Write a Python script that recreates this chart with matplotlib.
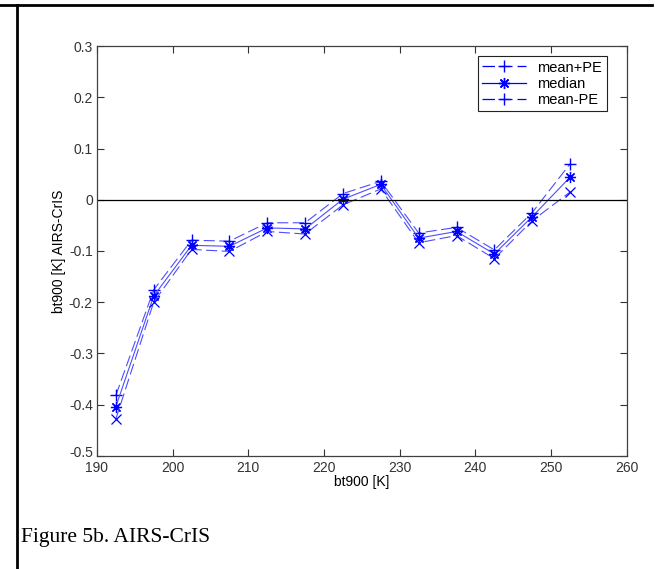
import matplotlib.pyplot as plt
import matplotlib.transforms as mtransforms
from matplotlib.lines import Line2D

# bin centres (bt900 [K])
bt900 = [192.5, 197.5, 202.5, 207.5, 212.5, 217.5, 222.5, 227.5, 232.5, 237.5, 242.5, 247.5, 252.5]

# AIRS-CrIS differences
mean_plus_pe = [-0.382, -0.176, -0.079, -0.081, -0.045, -0.045, 0.012, 0.036, -0.065, -0.054, -0.098, -0.025, 0.070]
median = [-0.404, -0.188, -0.089, -0.091, -0.055, -0.057, 0.001, 0.030, -0.075, -0.062, -0.106, -0.033, 0.044]
mean_minus_pe = [-0.428, -0.200, -0.097, -0.101, -0.062, -0.067, -0.010, 0.021, -0.084, -0.070, -0.115, -0.041, 0.015]

xticks = [190, 200, 210, 220, 230, 240, 250, 260]
yticks = [-0.5, -0.4, -0.3, -0.2, -0.1, 0, 0.1, 0.2, 0.3]

plt.rcParams['font.family'] = ['Liberation Sans', 'DejaVu Sans']

fig = plt.figure(figsize=(6.55, 5.69), dpi=100)
ax = fig.add_axes([0.148, 0.199, 0.809, 0.720])

blue = '#0000ff'
line_c = '#4d4dff'
star = (8, 2, 0)  # asterisk like matlab '*'
dash = (0, (10, 4))

ax.plot(bt900, mean_plus_pe, color=line_c, ls=dash, lw=0.8, marker='+', ms=9,
        mew=1.0, mec=blue)
ax.plot(bt900, median, color=line_c, ls='-', lw=0.8, marker=star, ms=8,
        mew=0.9, mec=blue)
ax.plot(bt900, mean_minus_pe, color=line_c, ls=dash, lw=0.8, marker='x', ms=7,
        mew=0.9, mec=blue)
ax.axhline(0, color='black', lw=0.9)

ax.set_xlim(190, 260)
ax.set_ylim(-0.5, 0.3)
ax.set_xticks(xticks)
ax.set_yticks(yticks)
ax.set_yticklabels(['-0.5', '-0.4', '-0.3', '-0.2', '-0.1', '0', '0.1', '0.2', '0.3'])
ax.tick_params(direction='in', top=True, right=True, length=5, width=0.8,
               labelsize=10, colors='#333333', pad=3)
ax.tick_params(axis='x', pad=4)
for s in ax.spines.values():
    s.set_color('#404040')
    s.set_linewidth(0.9)

# lift the bottom y label a little, like the original, so it clears "190"
lbl = ax.get_yticklabels()[0]
lbl.set_transform(lbl.get_transform() + mtransforms.ScaledTranslation(0, 3 / 72, fig.dpi_scale_trans))

ax.set_xlabel('bt900 [K]', fontsize=10, labelpad=0)
ax.set_ylabel('bt900 [K] AIRS-CrIS', fontsize=10, labelpad=2)

handles = [
    Line2D([], [], color=blue, ls=dash, lw=0.9, marker='+', ms=9),
    Line2D([], [], color=blue, ls='-', lw=0.9, marker=star, ms=8),
    Line2D([], [], color=blue, ls=dash, lw=0.9, marker='+', ms=9),
]
leg = ax.legend(handles, ['mean+PE', 'median', 'mean-PE'], loc='upper right',
                bbox_to_anchor=(0.97, 0.986), fontsize=10.5, fancybox=False,
                edgecolor='#222222', framealpha=1, handlelength=3.0,
                borderpad=0.3, labelspacing=0.15, handletextpad=0.8,
                borderaxespad=0.3)
leg.get_frame().set_linewidth(0.8)

# caption and outer frame lines
fig.text(0.032, 0.056, 'Figure 5b. AIRS-CrIS', fontsize=15.5,
         family=['Liberation Serif', 'DejaVu Serif'], va='center')
fig.add_artist(Line2D([0, 0.996], [0.991, 0.991], color='black', lw=2, transform=fig.transFigure))
fig.add_artist(Line2D([0.026, 0.026], [0, 0.991], color='black', lw=2, transform=fig.transFigure))

fig.savefig('out.png', dpi=100)
